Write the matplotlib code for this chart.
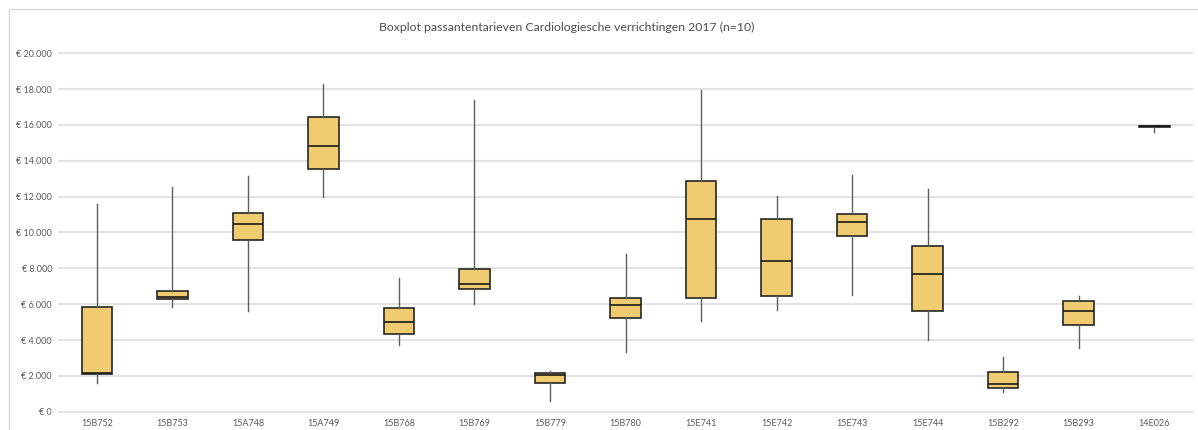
import matplotlib.pyplot as plt
from matplotlib.patches import Rectangle
from matplotlib.ticker import FuncFormatter

plt.rcParams['font.family'] = ['Lato', 'DejaVu Sans']

codes = ["15B752", "15B753", "15A748", "15A749", "15B768", "15B769", "15B779", "15B780",
         "15E741", "15E742", "15E743", "15E744", "15B292", "15B293", "14E026"]
whisker_low = [1580, 5860, 5600, 12000, 3720, 6030, 600, 3350,
               5060, 5670, 6490, 4000, 1120, 3530, 15590]
q1 = [2120, 6310, 9560, 13540, 4350, 6850, 1580, 5250,
      6360, 6440, 9790, 5600, 1340, 4820, 15870]
median = [2180, 6400, 10460, 14830, 5000, 7140, 2050, 5950,
          10750, 8390, 10570, 7670, 1540, 5620, 15930]
q3 = [5840, 6730, 11110, 16430, 5790, 7980, 2180, 6360,
      12860, 10730, 11050, 9270, 2230, 6200, 15960]
whisker_high = [11570, 12520, 13170, 18270, 7480, 17410, 2270, 8800,
                17950, 12060, 13230, 12450, 3070, 6440, 15960]

stats = []
for i, c in enumerate(codes):
    stats.append({"label": c, "whislo": whisker_low[i], "q1": q1[i], "med": median[i],
                  "q3": q3[i], "whishi": whisker_high[i], "fliers": []})

fig = plt.figure(figsize=(11.98, 4.30), dpi=100)
ax = fig.add_axes([0.0493, 0.0426, 0.9457, 0.8335])

ax.bxp(stats, widths=0.405, showfliers=False, showcaps=False, patch_artist=True,
       boxprops=dict(facecolor="#F0CB70", edgecolor="#262626", linewidth=1.2),
       medianprops=dict(color="#1a1a1a", linewidth=1.2),
       whiskerprops=dict(color="#5e5e5e", linewidth=1.0), zorder=3)

ax.set_ylim(0, 20000)
ax.set_xlim(0.5, len(codes) + 0.5)
ax.set_yticks(range(0, 20001, 2000))
ax.yaxis.set_major_formatter(FuncFormatter(lambda v, p: "€ " + f"{int(v):,}".replace(",", ".")))
ax.grid(axis="y", color="#e3e3e3", linewidth=1.5, zorder=0)
ax.set_axisbelow(True)
for s in ax.spines.values():
    s.set_visible(False)
ax.tick_params(axis="both", length=0, labelsize=6.5, labelcolor="#595959")
ax.tick_params(axis="y", pad=5)
ax.tick_params(axis="x", pad=5)
for gl in ax.get_ygridlines():
    gl.set_clip_on(False)

fig.text(0.4733, 0.935, "Boxplot passantentarieven Cardiologiesche verrichtingen 2017 (n=10)",
         ha="center", va="center", fontsize=8.8, color="#4d4d4d")

fig.patches.append(Rectangle((9 / 1198, -0.1), 1.2, 1.1 - 9 / 430, transform=fig.transFigure,
                             fill=False, edgecolor="#d9d9d9", linewidth=1.0))

fig.savefig("out.png", dpi=100)
